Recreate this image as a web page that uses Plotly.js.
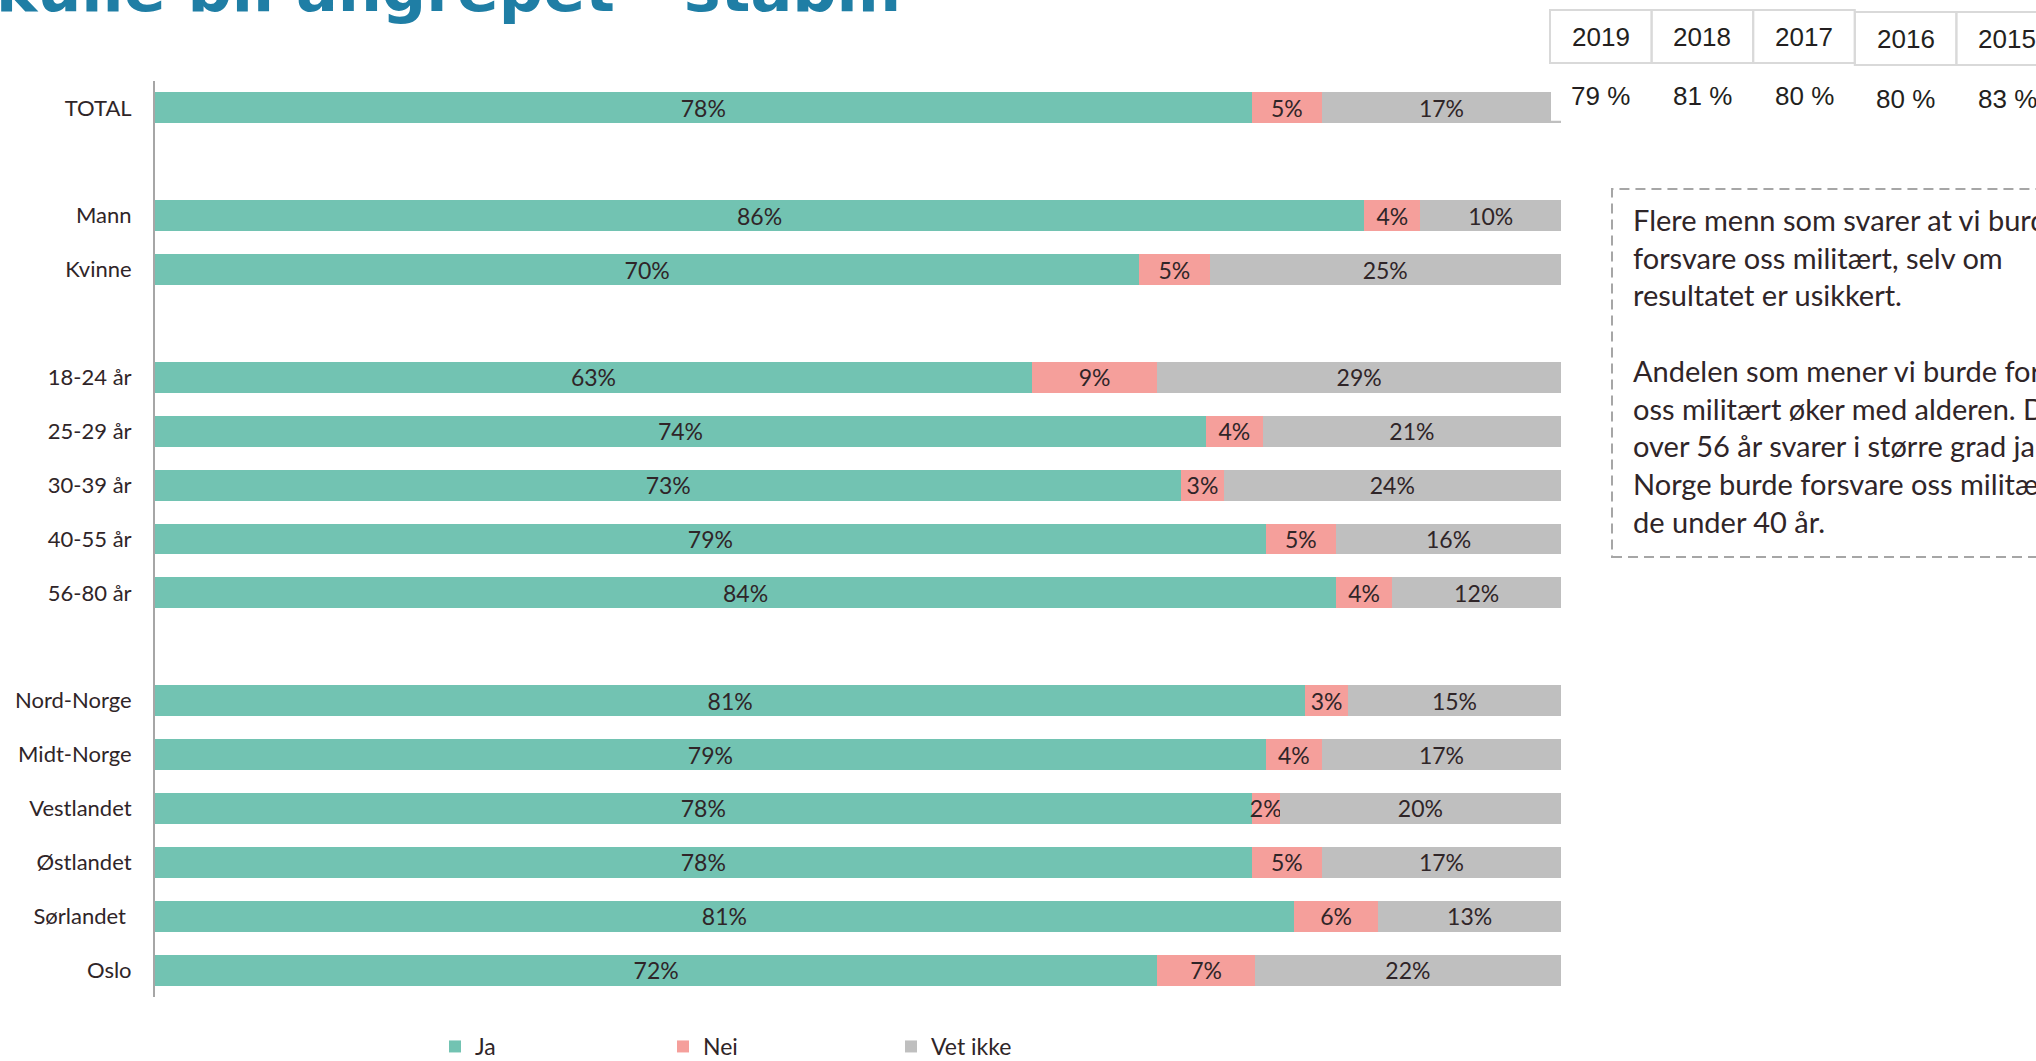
<!DOCTYPE html>
<html><head><meta charset="utf-8">
<script src="https://cdn.plot.ly/plotly-3.0.1.min.js"></script>
<style>html,body{margin:0;padding:0;background:#fff}#chart{width:2036px;height:1061px}</style>
</head><body><div id="chart"></div>
<script>
// ---- data ----
const categories = ['TOTAL', ' ', 'Mann', 'Kvinne', '  ', '18-24 år', '25-29 år', '30-39 år', '40-55 år', '56-80 år', '   ',
  'Nord-Norge', 'Midt-Norge', 'Vestlandet', 'Østlandet', 'Sørlandet\u00a0', 'Oslo'];
const ja      = [78, null, 86, 70, null, 63, 74, 73, 79, 84, null, 81, 79, 78, 78, 81, 72];
const nei     = [5,  null, 4,  5,  null, 9,  4,  3,  5,  4,  null, 3,  4,  2,  5,  6,  7];
const vetIkke = [17, null, 10, 25, null, 29, 21, 24, 16, 12, null, 15, 17, 20, 17, 13, 22];
const seriesNames = ['Ja', 'Nei', 'Vet ikke'];
const seriesColors = ['#72C3B2', '#F59F9B', '#BFBFBF'];
const years = ['2019', '2018', '2017', '2016', '2015'];
const yearValues = ['79 %', '81 %', '80 %', '80 %', '83 %'];
const titleText = 'skulle bli angrepet - stabil.';
const noteLines = [
  'Flere menn som svarer at vi burde',
  'forsvare oss militært, selv om',
  'resultatet er usikkert.',
  '\u00a0',
  'Andelen som mener vi burde forsvare',
  'oss militært øker med alderen. De',
  'over 56 år svarer i større grad ja til at',
  'Norge burde forsvare oss militært enn',
  'de under 40 år.'
];

// ---- style ----
const W = 2036, H = 1061;
const TXT = '#2F2528';
const FONT = 'Lato, "Open Sans", sans-serif';
const TFONT = '"Liberation Sans", Arial, sans-serif';

const seriesData = [ja, nei, vetIkke];
const traces = seriesData.map((vals, i) => ({
  type: 'bar',
  orientation: 'h',
  name: seriesNames[i],
  y: categories,
  x: vals,
  marker: {color: seriesColors[i], line: {width: 0}},
  text: vals.map(v => v == null ? '' : v + '%'),
  texttemplate: '%{text}',
  textposition: 'inside',
  insidetextanchor: 'middle',
  textangle: 0,
  constraintext: 'none',
  textfont: {family: FONT, size: 23, color: TXT},
  hoverinfo: 'skip'
}));

// ---- small year table (top right), drawn with shapes + annotations ----
const tableLeft = 1550, cellW = 101.6, headTop = 10, headBottom = 63;
const px = v => v / W, py = v => 1 - v / H;
const shapes = [
  // white table background (covers end of the TOTAL bar like in the source)
  {type: 'rect', xref: 'paper', yref: 'paper', x0: px(1551), x1: px(2040), y0: py(120.7), y1: py(0),
   line: {width: 0}, fillcolor: '#FFFFFF', layer: 'above'}
];
const annotations = [];
years.forEach((yr, i) => {
  const off = i >= 3 ? 2 : 0;
  shapes.push({type: 'rect', xref: 'paper', yref: 'paper',
    x0: px(tableLeft + i * cellW), x1: px(tableLeft + (i + 1) * cellW),
    y0: py(headBottom + off), y1: py(headTop + off),
    line: {color: '#D9D9D9', width: 2}, fillcolor: 'rgba(0,0,0,0)', layer: 'above'});
  annotations.push({xref: 'paper', yref: 'paper', x: px(tableLeft + (i + 0.5) * cellW), xanchor: 'center',
    y: py(37.5 + off), yanchor: 'middle', text: yr, showarrow: false,
    font: {family: TFONT, size: 26, color: '#231F20'}});
  annotations.push({xref: 'paper', yref: 'paper', x: px(tableLeft + (i + 0.5) * cellW), xanchor: 'center',
    y: py(96 + (i >= 3 ? 3 : 0)), yanchor: 'middle', text: yearValues[i].replace(' ', '\u00a0'), showarrow: false,
    font: {family: TFONT, size: 26, color: '#231F20'}});
});

// dashed comment box
shapes.push({type: 'rect', xref: 'paper', yref: 'paper', x0: px(1612), x1: 1.02, y0: py(557), y1: py(189),
  line: {color: '#A6A6A6', width: 2, dash: '10px,6px'}, fillcolor: 'rgba(0,0,0,0)', layer: 'above'});

annotations.push(
  {xref: 'paper', yref: 'paper', x: px(905), xanchor: 'right', y: py(28), yanchor: 'bottom',
   text: titleText, showarrow: false,
   font: {family: '"DejaVu Sans", sans-serif', size: 62, weight: 700, color: '#1F7EA5'}},
  {xref: 'paper', yref: 'paper', x: px(1631), xanchor: 'left', y: py(200), yanchor: 'top',
   text: noteLines.join('<br>'), align: 'left', showarrow: false,
   font: {family: FONT, size: 29, color: TXT}}
);

const layout = {
  width: W, height: H,
  margin: {l: 0, r: 0, t: 0, b: 0, autoexpand: false},
  paper_bgcolor: '#FFFFFF', plot_bgcolor: '#FFFFFF',
  barmode: 'stack',
  barnorm: 'percent',
  bargap: 0.425,
  showlegend: true,
  legend: {
    orientation: 'h', x: px(435), xanchor: 'left', y: -7 / H, yanchor: 'bottom',
    font: {family: FONT, size: 23, color: TXT},
    entrywidth: 183, entrywidthmode: 'pixels',
    traceorder: 'normal', bgcolor: 'rgba(0,0,0,0)', borderwidth: 0
  },
  xaxis: {
    domain: [px(155), px(1561)], range: [0, 100],
    showgrid: false, zeroline: false, showline: false, showticklabels: false, ticks: '',
    fixedrange: true
  },
  yaxis: {
    domain: [py(997), py(81)],
    type: 'category', categoryorder: 'array', categoryarray: categories,
    range: [categories.length - 0.5, -0.5],
    showgrid: false, zeroline: false,
    showline: true, linecolor: '#A6A6A6', linewidth: 2,
    ticks: '', ticklabelstandoff: 17,
    tickfont: {family: FONT, size: 22, color: TXT},
    automargin: false, fixedrange: true
  },
  shapes: shapes,
  annotations: annotations
};

Plotly.newPlot('chart', traces, layout, {displayModeBar: false, staticPlot: true});
</script>
</body></html>
